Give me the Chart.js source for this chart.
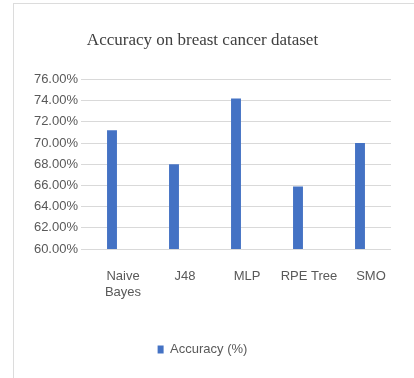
<!DOCTYPE html>
<html>
<head>
<meta charset="utf-8">
<script src="https://cdn.jsdelivr.net/npm/chart.js@4/dist/chart.umd.min.js"></script>
<style>
  html, body { margin: 0; padding: 0; background: #fff; }
  #wrap { position: relative; width: 414px; height: 378px; overflow: hidden; }
  #frame { position: absolute; left: 13px; top: 3px; width: 420px; height: 400px;
           border-left: 1px solid #dcdcdc; border-top: 1px solid #dcdcdc; }
  #chart { position: absolute; left: 0; top: 0; }
</style>
</head>
<body>
<div id="wrap">
  <div id="frame"></div>
  <canvas id="chart" width="414" height="378"></canvas>
</div>
<script>
const categories = [["Naive", "Bayes"], "J48", "MLP", "RPE Tree", "SMO"];
const accuracy = [71.2, 68.0, 74.2, 65.9, 70.0];
const yTicks = [60, 62, 64, 66, 68, 70, 72, 74, 76];

const tickFont = { family: "Liberation Sans", size: 13 };

new Chart(document.getElementById("chart").getContext("2d"), {
  type: "bar",
  data: {
    labels: categories,
    datasets: [
      {
        label: "Accuracy (%)",
        data: accuracy,
        backgroundColor: "#4472c4",
        barPercentage: 0.32,
        categoryPercentage: 0.5,
      },
    ],
  },
  options: {
    responsive: false,
    animation: false,
    layout: { padding: { top: 22, left: 14, right: 23, bottom: 12 } },
    plugins: {
      title: {
        display: true,
        text: "Accuracy on breast cancer dataset",
        color: "#404040",
        font: { family: "Liberation Serif", size: 17, weight: "normal" },
        padding: { top: 8, bottom: 29 },
      },
      legend: {
        position: "bottom",
        labels: {
          color: "#595959",
          font: tickFont,
          boxWidth: 6,
          boxHeight: 8,
          padding: 10,
        },
      },
      tooltip: { enabled: false },
    },
    scales: {
      y: {
        min: 60,
        max: 76,
        afterBuildTicks: s => { s.ticks = yTicks.map(v => ({ value: v })); },
        afterFit: s => { s.width = 67; },
        grid: { color: "#d9d9d9", drawTicks: false },
        border: { display: false },
        ticks: {
          color: "#595959",
          font: tickFont,
          padding: 3,
          callback: v => v.toFixed(2) + "%",
        },
      },
      x: {
        afterFit: s => { s.height = 84; },
        grid: { display: false },
        border: { display: false },
        ticks: {
          color: "#595959",
          font: tickFont,
          padding: 12,
          labelOffset: 11,
          maxRotation: 0,
        },
      },
    },
  },
});
</script>
</body>
</html>
